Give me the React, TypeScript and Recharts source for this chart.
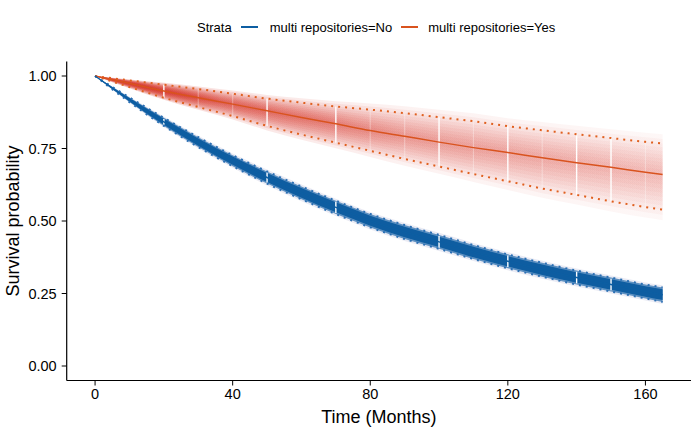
import { ComposedChart, Line, Area, XAxis, YAxis, ReferenceLine } from 'recharts';

const FONT = '"Liberation Sans", Arial, Helvetica, sans-serif';

const times = [0, 10, 20, 30, 40, 50, 60, 70, 80, 90, 100, 110, 120, 130, 140, 150, 160, 165];

// multi repositories = No
const noSurv = [1.0, 0.918, 0.842, 0.772, 0.708, 0.65, 0.597, 0.547, 0.501, 0.462, 0.428, 0.393, 0.361, 0.332, 0.305, 0.281, 0.257, 0.246];
const noUpper = [1.0, 0.926, 0.856, 0.789, 0.727, 0.671, 0.619, 0.57, 0.524, 0.486, 0.452, 0.417, 0.385, 0.356, 0.329, 0.305, 0.281, 0.271];
const noLower = [1.0, 0.91, 0.828, 0.755, 0.689, 0.629, 0.575, 0.524, 0.478, 0.438, 0.404, 0.369, 0.337, 0.308, 0.281, 0.257, 0.233, 0.221];

// multi repositories = Yes
const yesSurv = [1.0, 0.975, 0.948, 0.925, 0.903, 0.88, 0.857, 0.835, 0.812, 0.792, 0.772, 0.753, 0.736, 0.718, 0.701, 0.685, 0.668, 0.66];
const yesUpper = [1.0, 0.985, 0.97, 0.955, 0.939, 0.922, 0.908, 0.895, 0.884, 0.872, 0.858, 0.844, 0.827, 0.813, 0.799, 0.786, 0.773, 0.767];
const yesLower = [1.0, 0.962, 0.925, 0.893, 0.862, 0.828, 0.798, 0.77, 0.742, 0.714, 0.688, 0.662, 0.637, 0.612, 0.59, 0.568, 0.548, 0.539];

// censoring marks (months)
const noCensor = [20, 50, 70, 100, 120, 140, 150];
const yesCensor = [20, 50, 70, 100, 120, 140, 150];
const yesCensorFaint = [30, 40, 80, 90, 110, 130, 160];

const xTicks = [0, 40, 80, 120, 160];
const yTicks = [0, 0.25, 0.5, 0.75, 1];

// spread of the shaded fans, as a share of the confidence band
const yesBandScales = [1.3, 1.15, 1.0, 0.88, 0.76, 0.64, 0.52, 0.4, 0.28, 0.16];
const noBandScales = [1.3, 1.0, 0.75];

const BLUE = '#0D5EA2';
const RED = '#D9531E';

const band = (c: number, lo: number, hi: number, f: number) => [c - f * (c - lo), c + f * (hi - c)];

const rows = times.map((t, i) => {
  const row: Record<string, any> = {
    t,
    no: noSurv[i],
    noUp: noUpper[i],
    noLo: noLower[i],
    yes: yesSurv[i],
    yesUp: yesUpper[i],
    yesLo: yesLower[i],
  };
  yesBandScales.forEach((f, k) => {
    row[`yesBand${k}`] = band(yesSurv[i], yesLower[i], yesUpper[i], f);
  });
  noBandScales.forEach((f, k) => {
    row[`noBand${k}`] = band(noSurv[i], noLower[i], noUpper[i], f);
  });
  return row;
});

const at = (arr: number[], t: number) => arr[times.indexOf(t)];

const tickStyle = { fontSize: 14.5, fill: '#000', fontFamily: FONT };
const titleStyle = { fontSize: 18, fill: '#000', fontFamily: FONT };

const LegendKey = ({ color }: { color: string }) => (
  <svg width={17} height={6} style={{ display: 'block' }}>
    <line x1={0} y1={3} x2={17} y2={3} stroke={color} strokeWidth={2} />
  </svg>
);

const ChartLegend = () => (
  <div
    style={{
      position: 'absolute',
      top: 19,
      left: 197,
      display: 'flex',
      alignItems: 'center',
      fontFamily: FONT,
      fontSize: 13,
      color: '#000',
      height: 16,
      whiteSpace: 'nowrap',
    }}
  >
    <span>Strata</span>
    <span style={{ marginLeft: 9 }}><LegendKey color={BLUE} /></span>
    <span style={{ marginLeft: 12 }}>multi repositories=No</span>
    <span style={{ marginLeft: 9 }}><LegendKey color={RED} /></span>
    <span style={{ marginLeft: 10 }}>multi repositories=Yes</span>
  </div>
);

export default function App() {
  return (
    <div style={{ position: 'relative', width: 700, height: 432, background: '#fff' }}>
      <style>{'body{margin:0}'}</style>
      <ComposedChart
        width={700}
        height={432}
        data={rows}
        margin={{ top: 61.5, right: 9, bottom: 0, left: 0 }}
      >
        <defs>
          <linearGradient id="yesFade" x1="0" y1="0" x2="1" y2="0">
            <stop offset="0%" stopColor="#D3281C" stopOpacity={0.45} />
            <stop offset="22%" stopColor="#D3281C" stopOpacity={0.2} />
            <stop offset="55%" stopColor="#D3281C" stopOpacity={0.1} />
            <stop offset="100%" stopColor="#D3281C" stopOpacity={0.06} />
          </linearGradient>
        </defs>
        <XAxis
          dataKey="t"
          type="number"
          domain={[-8.25, 173.25]}
          ticks={xTicks}
          allowDataOverflow
          height={51.5}
          tickSize={5}
          tickMargin={3}
          tick={tickStyle}
          stroke="#000"
          axisLine={{ stroke: '#000', strokeWidth: 1.2 }}
          tickLine={{ stroke: '#000', strokeWidth: 1 }}
          label={{ value: 'Time (Months)', position: 'insideBottom', offset: 9, style: titleStyle }}
        />
        <YAxis
          type="number"
          domain={[-0.05, 1.05]}
          ticks={yTicks}
          allowDataOverflow
          width={66.7}
          tickSize={5}
          tickMargin={5}
          tick={tickStyle}
          tickFormatter={(v: number) => v.toFixed(2)}
          stroke="#000"
          axisLine={{ stroke: '#000', strokeWidth: 1.2 }}
          tickLine={{ stroke: '#000', strokeWidth: 1 }}
          label={{
            value: 'Survival probability',
            angle: -90,
            position: 'insideLeft',
            offset: 13,
            style: { ...titleStyle, textAnchor: 'middle' },
          }}
        />

        {yesBandScales.map((_, k) => (
          <Area
            key={`yb${k}`}
            type="monotone"
            dataKey={`yesBand${k}`}
            stroke="none"
            fill="url(#yesFade)"
            dot={false}
            activeDot={false}
            isAnimationActive={false}
          />
        ))}

        <Area type="monotone" dataKey="noBand0" stroke="none" fill="#6B6FB3" fillOpacity={0.14} dot={false} activeDot={false} isAnimationActive={false} />
        <Area type="monotone" dataKey="noBand1" stroke="none" fill="#1562A8" fillOpacity={0.65} dot={false} activeDot={false} isAnimationActive={false} />
        <Area type="monotone" dataKey="noBand2" stroke="none" fill="#0A5B9F" fillOpacity={0.95} dot={false} activeDot={false} isAnimationActive={false} />

        {yesCensorFaint.map((t) => (
          <ReferenceLine
            key={`yf${t}`}
            segment={[{ x: t, y: at(yesLower, t) }, { x: t, y: at(yesUpper, t) }]}
            stroke="#fff"
            strokeOpacity={0.3}
            strokeWidth={1.2}
          />
        ))}
        {yesCensor.map((t) => (
          <ReferenceLine
            key={`yc${t}`}
            segment={[{ x: t, y: at(yesLower, t) }, { x: t, y: at(yesUpper, t) }]}
            stroke="#fff"
            strokeWidth={1.4}
          />
        ))}
        {noCensor.map((t) => (
          <ReferenceLine
            key={`nc${t}`}
            segment={[{ x: t, y: at(noLower, t) + 0.004 }, { x: t, y: at(noUpper, t) - 0.004 }]}
            stroke="#fff"
            strokeWidth={1.4}
          />
        ))}

        <Line type="monotone" dataKey="yesUp" stroke="#E0601F" strokeWidth={2} strokeDasharray="2 5" dot={false} activeDot={false} isAnimationActive={false} />
        <Line type="monotone" dataKey="yesLo" stroke="#E0601F" strokeWidth={2} strokeDasharray="2 5" dot={false} activeDot={false} isAnimationActive={false} />
        <Line type="monotone" dataKey="noUp" stroke="#2A6FB3" strokeWidth={2} strokeDasharray="2 5" dot={false} activeDot={false} isAnimationActive={false} />
        <Line type="monotone" dataKey="noLo" stroke="#2A6FB3" strokeWidth={2} strokeDasharray="2 5" dot={false} activeDot={false} isAnimationActive={false} />

        <Line type="monotone" dataKey="yes" stroke={RED} strokeWidth={1.5} dot={false} activeDot={false} isAnimationActive={false} />
        <Line type="monotone" dataKey="no" stroke={BLUE} strokeWidth={1.5} dot={false} activeDot={false} isAnimationActive={false} />
      </ComposedChart>
      <ChartLegend />
    </div>
  );
}
